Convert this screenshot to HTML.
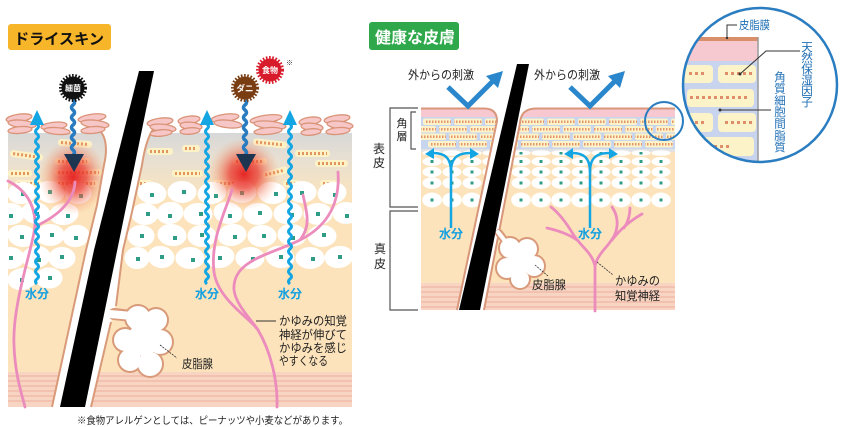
<!DOCTYPE html>
<html><head><meta charset="utf-8"><style>
html,body{margin:0;padding:0;background:#fff;}
body{width:843px;height:427px;overflow:hidden;}
svg{display:block;font-family:"Liberation Sans","Noto Sans CJK JP",sans-serif;}
.bk{fill:#fdf1c6}
.bd{stroke:#e3955f;stroke-width:3;stroke-dasharray:2 2}
.rb{fill:#fdf2c8}
.rd{stroke:#e4966a;stroke-width:2.5;stroke-dasharray:1.5 1.5}
.cl{fill:#fff}
.tl{fill:#2f9c86}
.fl{fill:#f7c6c6;stroke:#d99478;stroke-width:1.3}
.nv{fill:none;stroke:#ec8cbd;stroke-width:2.8;stroke-linecap:round}
.wv{fill:none;stroke:#14a5e3;stroke-width:3}
.lb{font-size:12px;fill:#222}
.wt{font-size:12px;font-weight:bold;fill:#14a0e0}
.it{font-size:11.5px;fill:#1f6fb5}
</style></head><body>
<svg width="843" height="427" viewBox="0 0 843 427" xmlns="http://www.w3.org/2000/svg">
<defs>
<linearGradient id="lg" x1="0" y1="133" x2="0" y2="200" gradientUnits="userSpaceOnUse">
<stop offset="0" stop-color="#d8d8d8"/><stop offset="0.4" stop-color="#e8e0d2"/><stop offset="1" stop-color="#fce3bb"/>
</linearGradient>
<radialGradient id="glow">
<stop offset="0" stop-color="#e51c1c" stop-opacity="0.95"/>
<stop offset="0.4" stop-color="#ea3b2e" stop-opacity="0.75"/>
<stop offset="0.75" stop-color="#f07a55" stop-opacity="0.3"/>
<stop offset="1" stop-color="#f5a070" stop-opacity="0"/>
</radialGradient>
<clipPath id="rc"><path d="M421,108 L484,108 Q497,108 497,121 L457,310 L421,310 Z M675,108 L536,108 Q521,108 520,123 L484,310 L675,310 Z"/></clipPath>
<clipPath id="ic"><circle cx="760" cy="85" r="77"/></clipPath>
</defs>

<!-- ============ LEFT PANEL ============ -->
<rect x="8" y="24" width="103" height="26" rx="3" fill="#f7b52a"/>
<text x="14" y="44" font-size="15" font-weight="bold" fill="#111" textLength="90" lengthAdjust="spacingAndGlyphs">ドライスキン</text>

<rect x="8" y="133" width="344" height="274" fill="url(#lg)"/>
<rect x="8" y="200" width="344" height="207" fill="#fce3bb"/>
<rect x="8" y="372" width="344" height="35" fill="#f8d5c2"/>
<g stroke="#f2c1b0" stroke-width="2">
<line x1="8" y1="376" x2="352" y2="376"/><line x1="8" y1="381" x2="352" y2="381"/><line x1="8" y1="386" x2="352" y2="386"/><line x1="8" y1="391" x2="352" y2="391"/><line x1="8" y1="396" x2="352" y2="396"/><line x1="8" y1="401" x2="352" y2="401"/>
</g>

<!-- bricks -->
<g transform="rotate(4 75 143.5)"><rect class="bk" x="58" y="140" width="34" height="7" rx="3"/><line class="bd" x1="61" y1="143.5" x2="89" y2="143.5"/></g>
<g transform="rotate(8 26.5 155.5)"><rect class="bk" x="10" y="152" width="33" height="7" rx="3"/><line class="bd" x1="13" y1="155.5" x2="40" y2="155.5"/></g>
<rect class="bk" x="55" y="158" width="35" height="7" rx="3"/><line class="bd" x1="58" y1="161.5" x2="87" y2="161.5"/>
<rect class="bk" x="8" y="170" width="24" height="7" rx="3"/><line class="bd" x1="11" y1="173.5" x2="29" y2="173.5"/>
<rect class="bk" x="55" y="169" width="47" height="7" rx="3"/><line class="bd" x1="58" y1="172.5" x2="99" y2="172.5"/>
<rect class="bk" x="15" y="180" width="27" height="7" rx="3"/><line class="bd" x1="18" y1="183.5" x2="39" y2="183.5"/>
<rect class="bk" x="55" y="180" width="43" height="7" rx="3"/><line class="bd" x1="58" y1="183.5" x2="95" y2="183.5"/>
<rect class="bk" x="147" y="148" width="26" height="7" rx="3"/><line class="bd" x1="150" y1="151.5" x2="170" y2="151.5"/>
<rect class="bk" x="182" y="145" width="18" height="7" rx="3"/><line class="bd" x1="185" y1="148.5" x2="197" y2="148.5"/>
<rect class="bk" x="172" y="170" width="31" height="7" rx="3"/><line class="bd" x1="175" y1="173.5" x2="200" y2="173.5"/>
<rect class="bk" x="137" y="180" width="16" height="7" rx="3"/><line class="bd" x1="140" y1="183.5" x2="150" y2="183.5"/>
<g transform="rotate(6 270 143.5)"><rect class="bk" x="253" y="140" width="34" height="7" rx="3"/><line class="bd" x1="256" y1="143.5" x2="284" y2="143.5"/></g>
<rect class="bk" x="233" y="158" width="34" height="7" rx="3"/><line class="bd" x1="236" y1="161.5" x2="264" y2="161.5"/>
<g transform="rotate(-14 275 172.5)"><rect class="bk" x="262" y="169" width="26" height="7" rx="3"/><line class="bd" x1="265" y1="172.5" x2="285" y2="172.5"/></g>
<rect class="bk" x="213" y="180" width="34" height="7" rx="3"/><line class="bd" x1="216" y1="183.5" x2="244" y2="183.5"/>
<rect class="bk" x="295" y="150" width="35" height="7" rx="3"/><line class="bd" x1="298" y1="153.5" x2="327" y2="153.5"/>
<rect class="bk" x="315" y="160" width="33" height="7" rx="3"/><line class="bd" x1="318" y1="163.5" x2="345" y2="163.5"/>
<rect class="bk" x="320" y="180" width="17" height="7" rx="3"/><line class="bd" x1="323" y1="183.5" x2="334" y2="183.5"/>
<rect class="bk" x="283" y="180" width="17" height="7" rx="3"/><line class="bd" x1="286" y1="183.5" x2="297" y2="183.5"/>

<!-- cells -->
<g class="cl" stroke="#fff" stroke-width="3" stroke-linejoin="round">
<ellipse cx="22" cy="193" rx="13" ry="9.5" transform="rotate(-8 22 193)"/><ellipse cx="50" cy="192" rx="13" ry="9.5" transform="rotate(10 50 192)"/><ellipse cx="78" cy="193" rx="12" ry="9.5"/>
<ellipse cx="152" cy="193" rx="13" ry="9.5" transform="rotate(8 152 193)"/><ellipse cx="182" cy="192" rx="13" ry="9.5"/><ellipse cx="212" cy="193" rx="13" ry="9.5" transform="rotate(-10 212 193)"/><ellipse cx="242" cy="192" rx="13" ry="9.5"/><ellipse cx="272" cy="193" rx="13" ry="9.5" transform="rotate(8 272 193)"/><ellipse cx="302" cy="192" rx="13" ry="9.5"/><ellipse cx="332" cy="193" rx="13" ry="9.5" transform="rotate(-8 332 193)"/>
<ellipse cx="10" cy="214" rx="13" ry="9.5"/><ellipse cx="36" cy="213" rx="13" ry="9.5" transform="rotate(12 36 213)"/><ellipse cx="64" cy="214" rx="13" ry="9.5" transform="rotate(-8 64 214)"/>
<ellipse cx="145" cy="214" rx="12" ry="9.5"/><ellipse cx="170" cy="213" rx="12" ry="9.5" transform="rotate(-10 170 213)"/><ellipse cx="198" cy="214" rx="13" ry="9.5"/><ellipse cx="228" cy="213" rx="13" ry="9.5" transform="rotate(10 228 213)"/><ellipse cx="258" cy="214" rx="13" ry="9.5"/><ellipse cx="288" cy="213" rx="13" ry="9.5" transform="rotate(-8 288 213)"/><ellipse cx="318" cy="214" rx="13" ry="9.5"/><ellipse cx="346" cy="213" rx="12" ry="9.5"/>
<ellipse cx="22" cy="236" rx="13" ry="9.5" transform="rotate(10 22 236)"/><ellipse cx="50" cy="235" rx="13" ry="9.5"/><ellipse cx="76" cy="236" rx="12" ry="9.5" transform="rotate(-10 76 236)"/>
<ellipse cx="141" cy="236" rx="12" ry="9.5"/><ellipse cx="172" cy="235" rx="13" ry="9.5" transform="rotate(8 172 235)"/><ellipse cx="202" cy="236" rx="13" ry="9.5"/><ellipse cx="232" cy="235" rx="13" ry="9.5" transform="rotate(-10 232 235)"/><ellipse cx="262" cy="236" rx="13" ry="9.5"/><ellipse cx="292" cy="235" rx="13" ry="9.5" transform="rotate(8 292 235)"/><ellipse cx="322" cy="236" rx="13" ry="9.5"/>
<ellipse cx="10" cy="258" rx="13" ry="9.5"/><ellipse cx="36" cy="257" rx="13" ry="9.5" transform="rotate(-8 36 257)"/><ellipse cx="62" cy="258" rx="12" ry="9.5"/>
<ellipse cx="137" cy="258" rx="11" ry="9.5"/><ellipse cx="161" cy="257" rx="12" ry="9.5" transform="rotate(10 161 257)"/><ellipse cx="190" cy="258" rx="13" ry="9.5"/><ellipse cx="220" cy="257" rx="13" ry="9.5" transform="rotate(-8 220 257)"/><ellipse cx="250" cy="258" rx="13" ry="9.5"/><ellipse cx="280" cy="257" rx="13" ry="9.5" transform="rotate(10 280 257)"/><ellipse cx="310" cy="258" rx="13" ry="9.5"/><ellipse cx="339" cy="257" rx="13" ry="9.5" transform="rotate(-8 339 257)"/>
<ellipse cx="22" cy="279" rx="13" ry="9.5" transform="rotate(-8 22 279)"/><ellipse cx="49" cy="278" rx="12" ry="9"/>
</g>
<g class="tl">
<rect x="21" y="192" width="4" height="4"/><rect x="48" y="190" width="4" height="4"/><rect x="79" y="194" width="4" height="4"/>
<rect x="150" y="193" width="4" height="4"/><rect x="182" y="190" width="4" height="4"/><rect x="214" y="194" width="4" height="4"/><rect x="240" y="191" width="4" height="4"/><rect x="274" y="192" width="4" height="4"/><rect x="300" y="191" width="4" height="4"/><rect x="333" y="193" width="4" height="4"/>
<rect x="9" y="214" width="4" height="4"/><rect x="35" y="212" width="4" height="4"/><rect x="66" y="214" width="4" height="4"/>
<rect x="146" y="212" width="4" height="4"/><rect x="168" y="214" width="4" height="4"/><rect x="199" y="212" width="4" height="4"/><rect x="228" y="214" width="4" height="4"/><rect x="258" y="211" width="4" height="4"/><rect x="290" y="213" width="4" height="4"/><rect x="316" y="212" width="4" height="4"/><rect x="345" y="214" width="4" height="4"/>
<rect x="20" y="235" width="4" height="4"/><rect x="50" y="233" width="4" height="4"/><rect x="74" y="236" width="4" height="4"/>
<rect x="140" y="234" width="4" height="4"/><rect x="173" y="236" width="4" height="4"/><rect x="200" y="233" width="4" height="4"/><rect x="233" y="235" width="4" height="4"/><rect x="262" y="234" width="4" height="4"/><rect x="291" y="236" width="4" height="4"/><rect x="322" y="233" width="4" height="4"/>
<rect x="9" y="256" width="4" height="4"/><rect x="37" y="258" width="4" height="4"/><rect x="60" y="255" width="4" height="4"/>
<rect x="136" y="257" width="4" height="4"/><rect x="160" y="255" width="4" height="4"/><rect x="191" y="258" width="4" height="4"/><rect x="218" y="256" width="4" height="4"/><rect x="251" y="257" width="4" height="4"/><rect x="279" y="255" width="4" height="4"/><rect x="311" y="257" width="4" height="4"/><rect x="338" y="255" width="4" height="4"/>
<rect x="20" y="278" width="4" height="4"/><rect x="48" y="276" width="4" height="4"/>
</g>

<!-- glow -->
<ellipse cx="73" cy="177" rx="34" ry="38" fill="url(#glow)"/>
<ellipse cx="244" cy="174" rx="36" ry="36" fill="url(#glow)"/>

<!-- nerves -->
<path class="nv" d="M8,181 C22,188 34,200 35,222 C36,240 12,300 14,345 C15,375 22,395 25,407"/>
<path class="nv" d="M75,182 C74,200 60,215 36,226"/>
<path class="nv" d="M232,190 C226,210 210,240 214,272 C218,300 250,318 258,330 C270,350 278,380 277,407"/>
<path class="nv" d="M338,172 C340,200 330,225 300,240 C270,255 232,260 234,290 C236,305 250,318 258,330"/>
<path class="nv" d="M303,195 C306,210 312,225 300,240"/>

<!-- follicle gap and lines -->
<path d="M96,128 C106,133 108,148 104,165 L97,205 L86,250 L52,407 L91,407 L111,322 L115,308 L123,250 L132,212 L142,165 C145,145 150,130 158,124 Z" fill="#fff"/>
<path d="M96,128 C106,133 108,148 104,165 L97,205 L86,250 L52,407" fill="none" stroke="#d99a7a" stroke-width="2"/>
<path d="M158,124 C150,130 145,145 142,165 L132,212 L123,250 L116,306" fill="none" stroke="#d99a7a" stroke-width="2"/>
<path d="M111,322 L91,407" fill="none" stroke="#d99a7a" stroke-width="2"/>
<!-- gland left -->
<path d="M114,314 L132,316" stroke="#d99a7a" stroke-width="12" stroke-linecap="round"/>
<g fill="#d99a7a">
<circle cx="138" cy="318" r="14"/><circle cx="156" cy="320" r="13"/><circle cx="160" cy="342" r="14"/><circle cx="150" cy="364" r="14"/><circle cx="130" cy="360" r="13"/><circle cx="125" cy="340" r="13"/><circle cx="143" cy="340" r="18"/>
</g>
<g fill="#fff">
<circle cx="138" cy="318" r="12"/><circle cx="156" cy="320" r="11"/><circle cx="160" cy="342" r="12"/><circle cx="150" cy="364" r="12"/><circle cx="130" cy="360" r="11"/><circle cx="125" cy="340" r="11"/><circle cx="143" cy="340" r="16"/>
</g>
<path d="M110,314 L132,316" stroke="#fff" stroke-width="8" stroke-linecap="round"/>
<!-- hair -->
<polygon points="139,71 154,71 85,407 60,407 94,250" fill="#000"/>

<!-- flakes -->
<g>
<ellipse class="fl" cx="19" cy="118" rx="13" ry="3.8" transform="rotate(-8 19 118)"/><ellipse class="fl" cx="22" cy="124" rx="14" ry="3.8" transform="rotate(6 22 124)"/><ellipse class="fl" cx="20" cy="130" rx="12" ry="3.4" transform="rotate(-5 20 130)"/>
<ellipse class="fl" cx="54" cy="126" rx="13" ry="3.8" transform="rotate(-6 54 126)"/><ellipse class="fl" cx="57" cy="131" rx="13" ry="3.4" transform="rotate(5 57 131)"/>
<ellipse class="fl" cx="92" cy="118" rx="14" ry="3.8" transform="rotate(-8 92 118)"/><ellipse class="fl" cx="95" cy="124" rx="14" ry="3.8" transform="rotate(6 95 124)"/><ellipse class="fl" cx="93" cy="130" rx="12" ry="3.4" transform="rotate(-5 93 130)"/>
<ellipse class="fl" cx="160" cy="122" rx="13" ry="3.8" transform="rotate(-8 160 122)"/><ellipse class="fl" cx="163" cy="128" rx="13" ry="3.8" transform="rotate(6 163 128)"/><ellipse class="fl" cx="161" cy="133" rx="11" ry="3.2" transform="rotate(-5 161 133)"/>
<ellipse class="fl" cx="189" cy="120" rx="11" ry="3.8" transform="rotate(-8 189 120)"/><ellipse class="fl" cx="191" cy="126" rx="11" ry="3.8" transform="rotate(6 191 126)"/><ellipse class="fl" cx="190" cy="131" rx="10" ry="3.2" transform="rotate(-5 190 131)"/>
<ellipse class="fl" cx="225" cy="118" rx="14" ry="3.8" transform="rotate(-8 225 118)"/><ellipse class="fl" cx="228" cy="124" rx="14" ry="3.8" transform="rotate(6 228 124)"/>
<ellipse class="fl" cx="266" cy="119" rx="16" ry="3.8" transform="rotate(-8 266 119)"/><ellipse class="fl" cx="270" cy="125" rx="16" ry="3.8" transform="rotate(6 270 125)"/><ellipse class="fl" cx="268" cy="131" rx="14" ry="3.4" transform="rotate(-5 268 131)"/>
<ellipse class="fl" cx="310" cy="121" rx="11" ry="3.8" transform="rotate(-8 310 121)"/><ellipse class="fl" cx="312" cy="127" rx="11" ry="3.8" transform="rotate(6 312 127)"/><ellipse class="fl" cx="311" cy="132" rx="10" ry="3.2" transform="rotate(-5 311 132)"/>
<ellipse class="fl" cx="337" cy="119" rx="13" ry="3.8" transform="rotate(-8 337 119)"/><ellipse class="fl" cx="340" cy="125" rx="13" ry="3.8" transform="rotate(6 340 125)"/><ellipse class="fl" cx="338" cy="131" rx="12" ry="3.4" transform="rotate(-5 338 131)"/>
</g>

<!-- water waves -->
<path class="wv" d="M37,124 q3,2.5 0,5 t0,5 t0,5 t0,5 t0,5 t0,5 t0,5 t0,5 t0,5 t0,5 t0,5 t0,5 t0,5 t0,5 t0,5 t0,5 t0,5 t0,5 t0,5 t0,5 t0,5 t0,5 t0,5 t0,5 t0,5 t0,5 t0,5 t0,5 t0,5 t0,5 t0,5 t0,5"/>
<polygon points="37,110 30,125 44,125" fill="#14a5e3"/>
<path class="wv" d="M207,124 q3,2.5 0,5 t0,5 t0,5 t0,5 t0,5 t0,5 t0,5 t0,5 t0,5 t0,5 t0,5 t0,5 t0,5 t0,5 t0,5 t0,5 t0,5 t0,5 t0,5 t0,5 t0,5 t0,5 t0,5 t0,5 t0,5 t0,5 t0,5 t0,5 t0,5 t0,5 t0,5 t0,5"/>
<polygon points="207,110 200,125 214,125" fill="#14a5e3"/>
<path class="wv" d="M290,124 q3,2.5 0,5 t0,5 t0,5 t0,5 t0,5 t0,5 t0,5 t0,5 t0,5 t0,5 t0,5 t0,5 t0,5 t0,5 t0,5 t0,5 t0,5 t0,5 t0,5 t0,5 t0,5 t0,5 t0,5 t0,5 t0,5 t0,5 t0,5 t0,5 t0,5 t0,5 t0,5 t0,5"/>
<polygon points="290,110 283,125 297,125" fill="#14a5e3"/>
<text class="wt" x="37" y="298" text-anchor="middle">水分</text>
<text class="wt" x="207" y="298" text-anchor="middle">水分</text>
<text class="wt" x="290" y="298" text-anchor="middle">水分</text>

<!-- germ arrows -->
<path d="M73,100 q3,2.5 0,5 t0,5 t0,5 t0,5 t0,5 t0,5 t0,5 t0,5 t0,5 t0,5 t0,5" fill="none" stroke="#2a7cc0" stroke-width="3.5"/>
<polygon points="64,154 84,154 74,172" fill="#1e3552"/>
<path d="M245,100 q3,2.5 0,5 t0,5 t0,5 t0,5 t0,5 t0,5 t0,5 t0,5 t0,5 t0,5 t0,5" fill="none" stroke="#2a7cc0" stroke-width="3.5"/>
<polygon points="236,154 256,154 246,172" fill="#1e3552"/>

<!-- badges -->
<circle cx="73" cy="88" r="11.5" fill="#111"/><circle cx="73" cy="88" r="12.5" fill="none" stroke="#111" stroke-width="3" stroke-dasharray="1.6 1.6"/>
<text x="73" y="91" font-size="8" font-weight="bold" fill="#fff" text-anchor="middle">細菌</text>
<circle cx="245" cy="88" r="11.5" fill="#7a3d12"/><circle cx="245" cy="88" r="12.5" fill="none" stroke="#7a3d12" stroke-width="3" stroke-dasharray="1.6 1.6"/>
<text x="245" y="91.5" font-size="8.5" font-weight="bold" fill="#fff" text-anchor="middle">ダニ</text>
<circle cx="270" cy="70" r="11.5" fill="#d81b2a"/><circle cx="270" cy="70" r="12.5" fill="none" stroke="#d81b2a" stroke-width="3" stroke-dasharray="1.6 1.6"/>
<text x="270" y="73" font-size="8" font-weight="bold" fill="#fff" text-anchor="middle">食物</text>
<text x="286" y="65" font-size="7" fill="#333">※</text>

<!-- left labels -->
<line x1="160" y1="345" x2="177" y2="358" stroke="#333" stroke-width="0.8" stroke-dasharray="2 1"/>
<text class="lb" x="182" y="368" font-size="11" textLength="31" lengthAdjust="spacingAndGlyphs">皮脂腺</text>
<line x1="256" y1="321" x2="276" y2="321" stroke="#333" stroke-width="0.9"/>
<text class="lb" x="279" y="325" textLength="68" lengthAdjust="spacingAndGlyphs">かゆみの知覚</text>
<text class="lb" x="279" y="339" textLength="68" lengthAdjust="spacingAndGlyphs">神経が伸びて</text>
<text class="lb" x="279" y="352" textLength="68" lengthAdjust="spacingAndGlyphs">かゆみを感じ</text>
<text class="lb" x="279" y="365" textLength="49" lengthAdjust="spacingAndGlyphs">やすくなる</text>
<text x="77" y="424" font-size="10" fill="#222" textLength="271" lengthAdjust="spacingAndGlyphs">※食物アレルゲンとしては、ピーナッツや小麦などがあります。</text>

<!-- ============ RIGHT PANEL ============ -->
<rect x="369" y="22" width="90" height="28" rx="3" fill="#2ea84a"/>
<text x="375" y="43" font-size="16" font-weight="bold" fill="#fff" textLength="80" lengthAdjust="spacingAndGlyphs">健康な皮膚</text>

<g clip-path="url(#rc)">
<rect x="421" y="108" width="254" height="202" fill="#fce3bb"/>
<rect x="421" y="108" width="254" height="10" fill="#f7c8cf"/>
<rect x="421" y="117" width="254" height="33" fill="#c7d5ee"/>
<rect x="421" y="149" width="254" height="3" fill="#e2e2e2"/>
<g>
<rect class="rb" x="423" y="118.5" width="28" height="6.5" rx="2"/><rect class="rb" x="454" y="118.5" width="28" height="6.5" rx="2"/><rect class="rb" x="485" y="118.5" width="28" height="6.5" rx="2"/><rect class="rb" x="516" y="118.5" width="28" height="6.5" rx="2"/><rect class="rb" x="547" y="118.5" width="28" height="6.5" rx="2"/><rect class="rb" x="578" y="118.5" width="28" height="6.5" rx="2"/><rect class="rb" x="609" y="118.5" width="28" height="6.5" rx="2"/><rect class="rb" x="640" y="118.5" width="28" height="6.5" rx="2"/><rect class="rb" x="671" y="118.5" width="28" height="6.5" rx="2"/>
<rect class="rb" x="408" y="126" width="28" height="6.5" rx="2"/><rect class="rb" x="439" y="126" width="28" height="6.5" rx="2"/><rect class="rb" x="470" y="126" width="28" height="6.5" rx="2"/><rect class="rb" x="501" y="126" width="28" height="6.5" rx="2"/><rect class="rb" x="532" y="126" width="28" height="6.5" rx="2"/><rect class="rb" x="563" y="126" width="28" height="6.5" rx="2"/><rect class="rb" x="594" y="126" width="28" height="6.5" rx="2"/><rect class="rb" x="625" y="126" width="28" height="6.5" rx="2"/><rect class="rb" x="656" y="126" width="28" height="6.5" rx="2"/>
<rect class="rb" x="418" y="133.5" width="28" height="6.5" rx="2"/><rect class="rb" x="449" y="133.5" width="28" height="6.5" rx="2"/><rect class="rb" x="480" y="133.5" width="28" height="6.5" rx="2"/><rect class="rb" x="511" y="133.5" width="28" height="6.5" rx="2"/><rect class="rb" x="542" y="133.5" width="28" height="6.5" rx="2"/><rect class="rb" x="573" y="133.5" width="28" height="6.5" rx="2"/><rect class="rb" x="604" y="133.5" width="28" height="6.5" rx="2"/><rect class="rb" x="635" y="133.5" width="28" height="6.5" rx="2"/><rect class="rb" x="666" y="133.5" width="28" height="6.5" rx="2"/>
<rect class="rb" x="428" y="141" width="28" height="6.5" rx="2"/><rect class="rb" x="459" y="141" width="28" height="6.5" rx="2"/><rect class="rb" x="490" y="141" width="28" height="6.5" rx="2"/><rect class="rb" x="521" y="141" width="28" height="6.5" rx="2"/><rect class="rb" x="552" y="141" width="28" height="6.5" rx="2"/><rect class="rb" x="583" y="141" width="28" height="6.5" rx="2"/><rect class="rb" x="614" y="141" width="28" height="6.5" rx="2"/><rect class="rb" x="645" y="141" width="28" height="6.5" rx="2"/>
</g>
<g>
<line class="rd" x1="426" y1="121.75" x2="699" y2="121.75"/>
<line class="rd" x1="411" y1="129.25" x2="684" y2="129.25"/>
<line class="rd" x1="421" y1="136.75" x2="694" y2="136.75"/>
<line class="rd" x1="431" y1="144.25" x2="673" y2="144.25"/>
</g>
<g fill="#c7d5ee">
<rect x="451" y="118.5" width="3" height="6.5"/><rect x="482" y="118.5" width="3" height="6.5"/><rect x="513" y="118.5" width="3" height="6.5"/><rect x="544" y="118.5" width="3" height="6.5"/><rect x="575" y="118.5" width="3" height="6.5"/><rect x="606" y="118.5" width="3" height="6.5"/><rect x="637" y="118.5" width="3" height="6.5"/><rect x="668" y="118.5" width="3" height="6.5"/>
<rect x="436" y="126" width="3" height="6.5"/><rect x="467" y="126" width="3" height="6.5"/><rect x="498" y="126" width="3" height="6.5"/><rect x="529" y="126" width="3" height="6.5"/><rect x="560" y="126" width="3" height="6.5"/><rect x="591" y="126" width="3" height="6.5"/><rect x="622" y="126" width="3" height="6.5"/><rect x="653" y="126" width="3" height="6.5"/>
<rect x="446" y="133.5" width="3" height="6.5"/><rect x="477" y="133.5" width="3" height="6.5"/><rect x="508" y="133.5" width="3" height="6.5"/><rect x="539" y="133.5" width="3" height="6.5"/><rect x="570" y="133.5" width="3" height="6.5"/><rect x="601" y="133.5" width="3" height="6.5"/><rect x="632" y="133.5" width="3" height="6.5"/><rect x="663" y="133.5" width="3" height="6.5"/>
<rect x="456" y="141" width="3" height="6.5"/><rect x="487" y="141" width="3" height="6.5"/><rect x="518" y="141" width="3" height="6.5"/><rect x="549" y="141" width="3" height="6.5"/><rect x="580" y="141" width="3" height="6.5"/><rect x="611" y="141" width="3" height="6.5"/><rect x="642" y="141" width="3" height="6.5"/><rect x="673" y="141" width="3" height="6.5"/>
</g>
<g class="cl">
<ellipse cx="432" cy="153" rx="9.5" ry="2.8"/><ellipse cx="452" cy="153" rx="9.5" ry="2.8"/><ellipse cx="472" cy="153" rx="9.5" ry="2.8"/><ellipse cx="492" cy="153" rx="9.5" ry="2.8"/><ellipse cx="521" cy="153" rx="9.5" ry="2.8"/><ellipse cx="541" cy="153" rx="9.5" ry="2.8"/><ellipse cx="561" cy="153" rx="9.5" ry="2.8"/><ellipse cx="581" cy="153" rx="9.5" ry="2.8"/><ellipse cx="601" cy="153" rx="9.5" ry="2.8"/><ellipse cx="621" cy="153" rx="9.5" ry="2.8"/><ellipse cx="641" cy="153" rx="9.5" ry="2.8"/><ellipse cx="661" cy="153" rx="9.5" ry="2.8"/>
<ellipse cx="432" cy="161.5" rx="9.5" ry="4.5"/><ellipse cx="452" cy="161.5" rx="9.5" ry="4.5"/><ellipse cx="472" cy="161.5" rx="9.5" ry="4.5"/><ellipse cx="492" cy="161.5" rx="9.5" ry="4.5"/><ellipse cx="521" cy="161.5" rx="9.5" ry="4.5"/><ellipse cx="541" cy="161.5" rx="9.5" ry="4.5"/><ellipse cx="561" cy="161.5" rx="9.5" ry="4.5"/><ellipse cx="581" cy="161.5" rx="9.5" ry="4.5"/><ellipse cx="601" cy="161.5" rx="9.5" ry="4.5"/><ellipse cx="621" cy="161.5" rx="9.5" ry="4.5"/><ellipse cx="641" cy="161.5" rx="9.5" ry="4.5"/><ellipse cx="661" cy="161.5" rx="9.5" ry="4.5"/>
<ellipse cx="432" cy="172" rx="9.5" ry="5.2"/><ellipse cx="452" cy="172" rx="9.5" ry="5.2"/><ellipse cx="472" cy="172" rx="9.5" ry="5.2"/><ellipse cx="492" cy="172" rx="9.5" ry="5.2"/><ellipse cx="521" cy="172" rx="9.5" ry="5.2"/><ellipse cx="541" cy="172" rx="9.5" ry="5.2"/><ellipse cx="561" cy="172" rx="9.5" ry="5.2"/><ellipse cx="581" cy="172" rx="9.5" ry="5.2"/><ellipse cx="601" cy="172" rx="9.5" ry="5.2"/><ellipse cx="621" cy="172" rx="9.5" ry="5.2"/><ellipse cx="641" cy="172" rx="9.5" ry="5.2"/><ellipse cx="661" cy="172" rx="9.5" ry="5.2"/>
<ellipse cx="432" cy="183" rx="9.5" ry="5.8"/><ellipse cx="452" cy="183" rx="9.5" ry="5.8"/><ellipse cx="472" cy="183" rx="9.5" ry="5.8"/><ellipse cx="521" cy="183" rx="9.5" ry="5.8"/><ellipse cx="541" cy="183" rx="9.5" ry="5.8"/><ellipse cx="561" cy="183" rx="9.5" ry="5.8"/><ellipse cx="581" cy="183" rx="9.5" ry="5.8"/><ellipse cx="601" cy="183" rx="9.5" ry="5.8"/><ellipse cx="621" cy="183" rx="9.5" ry="5.8"/><ellipse cx="641" cy="183" rx="9.5" ry="5.8"/><ellipse cx="661" cy="183" rx="9.5" ry="5.8"/>
<ellipse cx="432" cy="200" rx="9.8" ry="7.5"/><ellipse cx="452" cy="200" rx="9.8" ry="7.5"/><ellipse cx="472" cy="200" rx="9.8" ry="7.5"/><ellipse cx="521" cy="200" rx="9.8" ry="7.5"/><ellipse cx="541" cy="200" rx="9.8" ry="7.5"/><ellipse cx="561" cy="200" rx="9.8" ry="7.5"/><ellipse cx="581" cy="200" rx="9.8" ry="7.5"/><ellipse cx="601" cy="200" rx="9.8" ry="7.5"/><ellipse cx="621" cy="200" rx="9.8" ry="7.5"/><ellipse cx="641" cy="200" rx="9.8" ry="7.5"/><ellipse cx="661" cy="200" rx="9.8" ry="7.5"/>
</g>
<g class="tl">
<rect x="430.5" y="152" width="3" height="2.5"/><rect x="470.5" y="152" width="3" height="2.5"/><rect x="519.5" y="152" width="3" height="2.5"/><rect x="559.5" y="152" width="3" height="2.5"/><rect x="599.5" y="152" width="3" height="2.5"/><rect x="639.5" y="152" width="3" height="2.5"/>
<rect x="430.5" y="160" width="3" height="3"/><rect x="450.5" y="160" width="3" height="3"/><rect x="470.5" y="160" width="3" height="3"/><rect x="519.5" y="160" width="3" height="3"/><rect x="539.5" y="160" width="3" height="3"/><rect x="559.5" y="160" width="3" height="3"/><rect x="579.5" y="160" width="3" height="3"/><rect x="599.5" y="160" width="3" height="3"/><rect x="619.5" y="160" width="3" height="3"/><rect x="639.5" y="160" width="3" height="3"/><rect x="659.5" y="160" width="3" height="3"/>
<rect x="430.5" y="170.5" width="3" height="3"/><rect x="450.5" y="170.5" width="3" height="3"/><rect x="470.5" y="170.5" width="3" height="3"/><rect x="519.5" y="170.5" width="3" height="3"/><rect x="539.5" y="170.5" width="3" height="3"/><rect x="559.5" y="170.5" width="3" height="3"/><rect x="579.5" y="170.5" width="3" height="3"/><rect x="599.5" y="170.5" width="3" height="3"/><rect x="619.5" y="170.5" width="3" height="3"/><rect x="639.5" y="170.5" width="3" height="3"/><rect x="659.5" y="170.5" width="3" height="3"/>
<rect x="430.5" y="181.5" width="3" height="3"/><rect x="450.5" y="181.5" width="3" height="3"/><rect x="470.5" y="181.5" width="3" height="3"/><rect x="519.5" y="181.5" width="3" height="3"/><rect x="539.5" y="181.5" width="3" height="3"/><rect x="559.5" y="181.5" width="3" height="3"/><rect x="579.5" y="181.5" width="3" height="3"/><rect x="599.5" y="181.5" width="3" height="3"/><rect x="619.5" y="181.5" width="3" height="3"/><rect x="639.5" y="181.5" width="3" height="3"/><rect x="659.5" y="181.5" width="3" height="3"/>
<rect x="430.5" y="198.5" width="3" height="3"/><rect x="450.5" y="198.5" width="3" height="3"/><rect x="470.5" y="198.5" width="3" height="3"/><rect x="519.5" y="198.5" width="3" height="3"/><rect x="539.5" y="198.5" width="3" height="3"/><rect x="559.5" y="198.5" width="3" height="3"/><rect x="579.5" y="198.5" width="3" height="3"/><rect x="599.5" y="198.5" width="3" height="3"/><rect x="619.5" y="198.5" width="3" height="3"/><rect x="639.5" y="198.5" width="3" height="3"/><rect x="659.5" y="198.5" width="3" height="3"/>
</g>
<rect x="421" y="283" width="254" height="27" fill="#f8d5c2"/>
<g stroke="#f2c1b0" stroke-width="2">
<line x1="421" y1="287" x2="675" y2="287"/><line x1="421" y1="292" x2="675" y2="292"/><line x1="421" y1="297" x2="675" y2="297"/><line x1="421" y1="302" x2="675" y2="302"/><line x1="421" y1="307" x2="675" y2="307"/>
</g>
</g>
<path d="M421,108.5 L484,108.5 Q497,108.5 497,121 L457,310" fill="none" stroke="#d8967a" stroke-width="2"/>
<path d="M675,108.5 L536,108.5 Q521,108.5 520,123 L484,310" fill="none" stroke="#d8967a" stroke-width="2"/>
<!-- gland right -->
<path d="M499,233 L509,246" stroke="#d99a7a" stroke-width="8" stroke-linecap="round"/>
<g fill="#d99a7a">
<circle cx="510" cy="248" r="12"/><circle cx="527" cy="249" r="12"/><circle cx="534" cy="266" r="12"/><circle cx="520" cy="279" r="11"/><circle cx="507" cy="268" r="12"/><circle cx="519" cy="262" r="14"/>
</g>
<g fill="#fff">
<circle cx="510" cy="248" r="10"/><circle cx="527" cy="249" r="10"/><circle cx="534" cy="266" r="10"/><circle cx="520" cy="279" r="9"/><circle cx="507" cy="268" r="10"/><circle cx="519" cy="262" r="12"/>
</g>
<path d="M498,232 L509,246" stroke="#fff" stroke-width="4" stroke-linecap="round"/>
<polygon points="517,64 529,64 480,310 459,310" fill="#000"/>
<g class="nv" stroke-width="2.2">
<path d="M595,311 L595,266 C592,252 580,246 573,234 C567,224 560,214 551,207"/>
<path d="M595,266 C598,252 610,246 615,234 C619,224 617,214 612,207"/>
<path d="M577,240 C570,235 560,231 547,228"/>
<path d="M612,240 C620,230 628,222 642,214"/>
<path d="M624,228 C628,222 630,216 630,208"/>
</g>
<g fill="none" stroke="#14a5e3" stroke-width="2.5">
<path d="M451,228 L451,172 C451,158 445,153 433,153"/>
<path d="M451,172 C451,158 457,153 471,153"/>
<path d="M590,228 L590,172 C590,158 584,153 572,153"/>
<path d="M590,172 C590,158 596,153 610,153"/>
</g>
<g fill="#14a5e3">
<polygon points="425,154 434,148 434,159"/><polygon points="479,154 470,148 470,159"/>
<polygon points="564,154 573,148 573,159"/><polygon points="618,154 609,148 609,159"/>
</g>
<text class="wt" x="451" y="238" text-anchor="middle" font-size="11">水分</text>
<text class="wt" x="590" y="238" text-anchor="middle" font-size="11">水分</text>
<text class="lb" x="408" y="79" textLength="66" lengthAdjust="spacingAndGlyphs">外からの刺激</text>
<text class="lb" x="534" y="79" textLength="66" lengthAdjust="spacingAndGlyphs">外からの刺激</text>
<g fill="none" stroke="#2b87cc" stroke-width="5" stroke-linejoin="miter">
<path d="M448,87 L468,106 L493,81"/>
<path d="M570,87 L590,106 L615,81"/>
</g>
<g fill="#2b87cc">
<polygon points="503,71 498,88 486,76"/>
<polygon points="625,71 620,88 608,76"/>
</g>
<g fill="none" stroke="#555" stroke-width="1.2">
<path d="M418,108 L390,108 L390,207 L418,207"/>
<path d="M418,211 L390,211 L390,310 L418,310"/>
<path d="M416,112 L411,112 L411,149 L416,149"/>
</g>
<g class="lb" text-anchor="middle">
<text x="379" y="153">表</text><text x="379" y="167">皮</text>
<text x="380" y="253">真</text><text x="380" y="268">皮</text>
<text x="402" y="127" font-size="11">角</text><text x="402" y="140" font-size="11">層</text>
</g>
<text class="lb" x="532" y="289" font-size="11" textLength="34" lengthAdjust="spacingAndGlyphs">皮脂腺</text>
<line x1="535" y1="265" x2="548" y2="276" stroke="#333" stroke-width="0.8" stroke-dasharray="2 1"/>
<line x1="597" y1="262" x2="613" y2="275" stroke="#333" stroke-width="0.8" stroke-dasharray="2 1"/>
<text class="lb" x="615" y="285" font-size="11" textLength="45" lengthAdjust="spacingAndGlyphs">かゆみの</text>
<text class="lb" x="615" y="300" font-size="11" textLength="45" lengthAdjust="spacingAndGlyphs">知覚神経</text>

<circle cx="664" cy="121" r="19" fill="none" stroke="#2a7dc0" stroke-width="2"/>

<circle cx="760" cy="85" r="77" fill="#fff"/>
<g clip-path="url(#ic)">
<rect x="680" y="37" width="78" height="4" fill="#d9906a"/>
<rect x="680" y="41" width="78" height="20" fill="#f6c9d0"/>
<rect x="680" y="61" width="78" height="110" fill="#c8d4ee"/>
<rect x="672" y="65" width="41" height="18" rx="4" fill="#fdf3c9"/><rect x="718" y="65" width="38" height="18" rx="4" fill="#fdf3c9"/>
<rect x="687" y="89" width="67" height="18" rx="4" fill="#fdf3c9"/>
<rect x="672" y="113" width="41" height="19" rx="4" fill="#fdf3c9"/><rect x="718" y="113" width="38" height="19" rx="4" fill="#fdf3c9"/>
<rect x="687" y="137" width="67" height="19" rx="4" fill="#fdf3c9"/>
<g fill="#df8d6a">
<rect x="689" y="72" width="3" height="3"/><rect x="695" y="72" width="3" height="3"/><rect x="701" y="72" width="3" height="3"/>
<rect x="725" y="72" width="3" height="3"/><rect x="731" y="72" width="3" height="3"/><rect x="737" y="72" width="3" height="3"/><rect x="743" y="72" width="3" height="3"/><rect x="749" y="72" width="3" height="3"/>
<rect x="690" y="96" width="3" height="3"/><rect x="696" y="96" width="3" height="3"/><rect x="702" y="96" width="3" height="3"/><rect x="708" y="96" width="3" height="3"/><rect x="714" y="96" width="3" height="3"/><rect x="720" y="96" width="3" height="3"/><rect x="726" y="96" width="3" height="3"/><rect x="732" y="96" width="3" height="3"/><rect x="738" y="96" width="3" height="3"/><rect x="744" y="96" width="3" height="3"/>
<rect x="695" y="121" width="3" height="3"/><rect x="701" y="121" width="3" height="3"/>
<rect x="725" y="121" width="3" height="3"/><rect x="731" y="121" width="3" height="3"/><rect x="737" y="121" width="3" height="3"/><rect x="743" y="121" width="3" height="3"/><rect x="749" y="121" width="3" height="3"/>
<rect x="690" y="145" width="3" height="3"/><rect x="696" y="145" width="3" height="3"/><rect x="702" y="145" width="3" height="3"/><rect x="708" y="145" width="3" height="3"/><rect x="714" y="145" width="3" height="3"/><rect x="720" y="145" width="3" height="3"/><rect x="726" y="145" width="3" height="3"/>
</g>
<line x1="758" y1="37" x2="758" y2="170" stroke="#9a9a9a" stroke-width="1.5"/>
</g>
<circle cx="760" cy="85" r="77" fill="none" stroke="#2a7dc0" stroke-width="2.5"/>
<g fill="none" stroke="#333" stroke-width="1">
<path d="M737,25 L727,25 L727,38"/>
<path d="M800,51 L766,51 L740,74"/>
<path d="M720,110 L771,110"/>
</g>
<circle cx="740" cy="74" r="1.5" fill="#333"/><circle cx="720" cy="110" r="1.5" fill="#333"/><circle cx="727" cy="38" r="1.2" fill="#333"/>
<text class="it" x="739" y="29" textLength="31" lengthAdjust="spacingAndGlyphs">皮脂膜</text>
<g class="it" text-anchor="middle" font-size="11">
<text x="807" y="51">天</text><text x="807" y="62">然</text><text x="807" y="73">保</text><text x="807" y="84">湿</text><text x="807" y="95">因</text><text x="807" y="106">子</text>
<text x="780" y="81">角</text><text x="780" y="92.7">質</text><text x="780" y="104.3">細</text><text x="780" y="116">胞</text><text x="780" y="127.7">間</text><text x="780" y="139.3">脂</text><text x="780" y="151">質</text>
</g>
</svg>
</body></html>
